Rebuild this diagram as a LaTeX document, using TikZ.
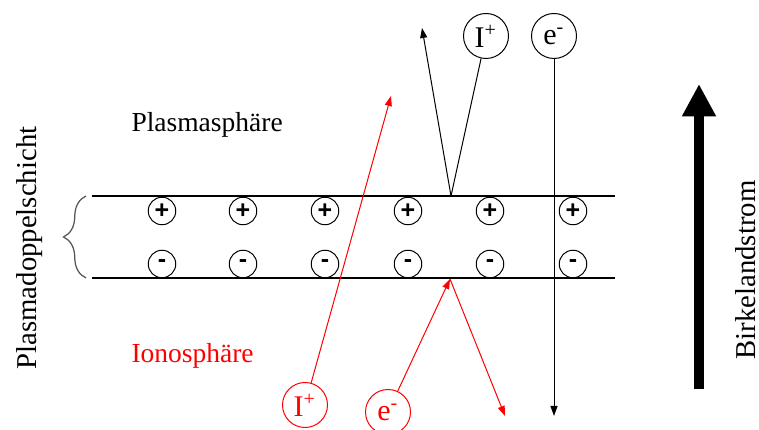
\documentclass[tikz,border=0pt]{standalone}
\usepackage{fontspec}
\setmainfont{Liberation Serif}
\setsansfont{Liberation Sans}
\usetikzlibrary{arrows.meta,decorations.pathreplacing}
\definecolor{braceGray}{HTML}{555555}
\tikzset{
    charge/.style={draw,circle,inner sep=0pt,minimum size=11pt,line width=0.4pt,
        font=\fontsize{10}{10}\sffamily\bfseries},
    particle/.style={draw,circle,inner sep=0pt,minimum size=18pt,line width=0.4pt,
        font=\rmfamily\fontsize{12}{12}\selectfont},
    ray/.style={-{Triangle[length=4pt,width=2.8pt]},line width=0.4pt},
    layer/.style={line width=1pt},
    regiontext/.style={font=\rmfamily\fontsize{11}{12}\selectfont,inner sep=0pt},
    sidetext/.style={font=\rmfamily\fontsize{11.5}{12}\selectfont,inner sep=0pt,rotate=90}
}
\begin{document}
\begin{tikzpicture}[x=0.4pt,y=-0.4pt]
    \clip (0,0) rectangle (759,430);
    % Doppelschicht
    \draw[layer] (92,196) coordinate (tl) -- (615,196) coordinate (tr);
    \draw[layer] (92,278) coordinate (bl) -- (615,278) coordinate (br);
    \foreach \x/\idx in {162/1,243/2,325/3,408/4,490/5,573/6} {
        \node[charge] (p\idx) at (\x,211) {+};
        \node[charge] (m\idx) at (\x,264) {-};
    }
    \draw[braceGray,line width=0.5pt,decorate,decoration={brace,amplitude=9pt}]
        (86,278) -- (86,196);
    \node[sidetext] (dl) at (30,248) {Plasmadoppelschicht};
    \node[regiontext,anchor=base west] (ps) at (131,132) {Plasmasphäre};
    \node[regiontext,anchor=base west,text=red] (is) at (131,363) {Ionosphäre};
    % Teilchen oben
    \node[particle] (iu) at (486,36) {I\textsuperscript{+}};
    \node[particle] (eu) at (554,36) {e\textsuperscript{-}};
    \coordinate (hit1) at (451,196);
    \coordinate (out1) at (422,28);
    \coordinate (out2) at (554,416);
    \draw (iu) -- (hit1);
    \draw[ray] (hit1) -- (out1);
    \draw[ray] (eu) -- (out2);
    % Teilchen unten
    \node[particle,red] (il) at (305,405) {I\textsuperscript{+}};
    \node[particle,red] (el) at (388,412) {e\textsuperscript{-}};
    \coordinate (out3) at (391,96);
    \coordinate (hit2) at (450,279);
    \coordinate (out4) at (505,416);
    \draw[ray,red] (il) -- (out3);
    \draw[ray,red] (el) -- (hit2);
    \draw[ray,red] (hit2) -- (out4);
    % Birkelandstrom
    \coordinate (bs) at (699,389);
    \coordinate (bt) at (699,84);
    \draw[line width=4pt,-{Triangle[length=13pt,width=12.8pt]}] (bs) -- (bt);
    \node[sidetext] (bk) at (746,270) {Birkelandstrom};
\end{tikzpicture}
\end{document}
